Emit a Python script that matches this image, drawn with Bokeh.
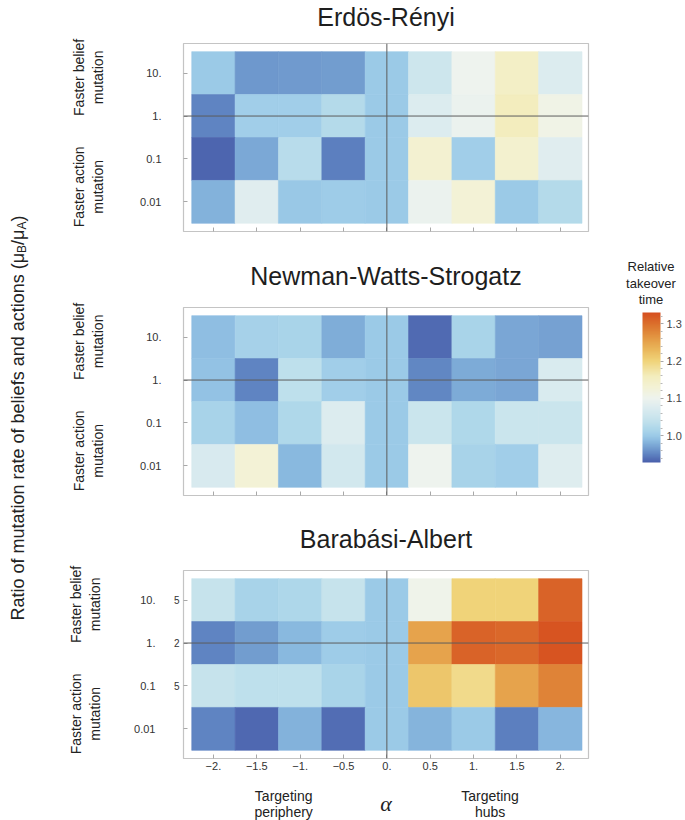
import numpy as np
from bokeh.plotting import figure
from bokeh.models import (LinearColorMapper, FixedTicker, Span, Label, Range1d,
                          LinearAxis, ColumnDataSource, ColorBar, Title)
from bokeh.layouts import row, column
from bokeh.transform import transform
from bokeh.embed import file_html
from bokeh.resources import INLINE

# ---------------- data ----------------
alphas = [-2.0, -1.5, -1.0, -0.5, 0.0, 0.5, 1.0, 1.5, 2.0]
alpha_labels = ["−2.", "−1.5", "−1.", "−0.5", "0.", "0.5", "1.", "1.5", "2."]
log_ratios = [1, 0, -1, -2]            # log10(mu_B/mu_A), rows top -> bottom
ratio_labels = ["10.", "1.", "0.1", "0.01"]
ba_extra_labels = ["5", "2", "5", ""]
panel_titles = ["Erdös-Rényi", "Newman-Watts-Strogatz", "Barabási-Albert"]
group_pos = [0.9, -1.65]
group_labels = ["Faster belief\nmutation", "Faster action\nmutation"]
target_pos = [-1.19, 1.19]
target_labels = ["Targeting\nperiphery", "Targeting\nhubs"]

# relative takeover time, rows: 10, 1, 0.1, 0.01 ; columns: alpha -2 .. 2
er_values = [
    [1.000, 0.963, 0.965, 0.967, 1.000, 1.055, 1.100, 1.148, 1.075],
    [0.950, 1.005, 1.005, 1.025, 1.000, 1.075, 1.095, 1.158, 1.110],
    [0.932, 0.975, 1.030, 0.948, 1.000, 1.135, 1.005, 1.138, 1.080],
    [0.980, 1.080, 0.998, 1.003, 1.000, 1.095, 1.128, 1.000, 1.025],
]
nws_values = [
    [0.990, 1.010, 1.013, 0.978, 1.000, 0.935, 1.013, 0.972, 0.970],
    [0.993, 0.950, 1.035, 1.005, 1.000, 0.953, 0.976, 0.973, 1.070],
    [1.012, 0.990, 1.020, 1.075, 1.000, 1.050, 1.020, 1.050, 1.050],
    [1.068, 1.128, 0.985, 1.060, 1.000, 1.100, 1.012, 1.005, 1.078],
]
ba_values = [
    [1.045, 1.012, 1.018, 1.045, 1.000, 1.105, 1.200, 1.200, 1.310],
    [0.950, 0.967, 0.985, 1.002, 1.000, 1.250, 1.310, 1.305, 1.325],
    [1.045, 1.035, 1.035, 1.013, 1.000, 1.215, 1.190, 1.250, 1.280],
    [0.950, 0.933, 0.980, 0.937, 1.000, 0.982, 1.000, 0.948, 0.983],
]
cbar_ticks = [1.0, 1.1, 1.2, 1.3]
cbar_low, cbar_high = 0.928, 1.33
cbar_title = ["Relative", "takeover", "time"]

# ---------------- style ----------------
FONT = "Liberation Sans"
TXT = "#222222"
anchors = [(0.928, "#4a60ac"), (0.95, "#5f84c2"), (0.97, "#77a3d3"), (0.985, "#89b9df"),
           (1.00, "#9ccbe8"), (1.02, "#b0d8ea"), (1.04, "#c3e2ec"), (1.07, "#d9ebef"),
           (1.10, "#eef3ee"), (1.13, "#f3f2d5"), (1.16, "#f3edbd"), (1.20, "#f0d47a"),
           (1.23, "#eab85c"), (1.26, "#e49a45"), (1.29, "#dd7a31"), (1.33, "#d64f1f")]


def build_palette(n=256):
    vs = np.array([a[0] for a in anchors])
    rgb = np.array([[int(h[i:i + 2], 16) for i in (1, 3, 5)] for _, h in anchors], dtype=float)
    grid = np.linspace(cbar_low, cbar_high, n)
    ch = [np.interp(grid, vs, rgb[:, k]) for k in range(3)]
    return ["#%02x%02x%02x" % (int(round(r)), int(round(g)), int(round(b))) for r, g, b in zip(*ch)]


mapper = LinearColorMapper(palette=build_palette(), low=cbar_low, high=cbar_high)

XR = (-2.345, 2.325)
YR = (-2.69, 1.69)
TOP, BOTTOM_LAST = 43, 62
LEFT_W, PANEL_W, CB_W, H = 34, 566, 85, 820
PANEL_LEFT = 149


def plain_axis(ax, size="11px", standoff=0, ticks_in=0):
    ax.axis_line_color = None
    ax.major_tick_in = ticks_in
    ax.major_tick_out = 0
    ax.minor_tick_in = 0
    ax.minor_tick_out = 0
    ax.major_tick_line_color = "#a8a8a8" if ticks_in else None
    ax.minor_tick_line_color = None
    ax.major_label_text_font = FONT
    ax.major_label_text_font_size = size
    ax.major_label_text_color = "#333333"
    ax.major_label_standoff = standoff


def make_panel(title, vals, b_top, b_bottom, spacer, is_last):
    p = figure(title=None, frame_width=405, frame_height=188,
               x_range=Range1d(*XR), y_range=Range1d(*YR),
               min_border_left=PANEL_LEFT, min_border_right=PANEL_W - PANEL_LEFT - 405,
               min_border_top=b_top, min_border_bottom=b_bottom,
               toolbar_location=None, tools="", output_backend="svg")
    # spacer (closest to the frame) and then the panel title
    p.add_layout(Title(text=" ", text_font_size="1px", standoff=spacer), "above")
    p.add_layout(Title(text=title, align="center", standoff=0, text_font=FONT,
                       text_font_size="25px", text_font_style="normal",
                       text_color="#1e1e1e"), "above")

    xs, ys, vs = [], [], []
    for i, lr in enumerate(log_ratios):
        for j, a in enumerate(alphas):
            xs.append(a)
            ys.append(lr)
            vs.append(vals[i][j])
    src = ColumnDataSource(dict(x=xs, y=ys, v=vs))
    p.rect("x", "y", width=0.5, height=1, source=src,
           fill_color=transform("v", mapper), line_color=transform("v", mapper), line_width=0.6)
    p.grid.visible = False
    p.outline_line_color = "#c4c4c4"
    p.outline_line_width = 1.2

    # x axis
    xa = p.xaxis[0]
    xa.ticker = FixedTicker(ticks=alphas)
    plain_axis(xa, standoff=3, ticks_in=4)
    if is_last:
        xa.major_label_overrides = dict(zip(alphas, alpha_labels))
        ta = LinearAxis(ticker=FixedTicker(ticks=target_pos),
                        major_label_overrides=dict(zip(target_pos, target_labels)))
        plain_axis(ta, size="14px", standoff=15)
        ta.major_label_text_color = TXT
        ta.major_label_text_line_height = 1.05
        ta.axis_label = "α"
        ta.axis_label_standoff = -32
        ta.axis_label_text_font = "Liberation Serif"
        ta.axis_label_text_font_style = "italic"
        ta.axis_label_text_font_size = "22px"
        ta.axis_label_text_color = TXT
        p.add_layout(ta, "below")
    else:
        xa.major_label_overrides = {a: "" for a in alphas}

    # y axes (stacked outwards from the frame)
    ya = p.yaxis[0]
    ya.ticker = FixedTicker(ticks=log_ratios)
    if is_last:
        ya.major_label_overrides = dict(zip(log_ratios, ba_extra_labels))
        plain_axis(ya, size="10px", standoff=4, ticks_in=4)
        ra = LinearAxis(ticker=FixedTicker(ticks=log_ratios),
                        major_label_overrides=dict(zip(log_ratios, ratio_labels)))
        plain_axis(ra, standoff=15)
        p.add_layout(ra, "left")
        g_standoff = 28
    else:
        ya.major_label_overrides = dict(zip(log_ratios, ratio_labels))
        plain_axis(ya, standoff=22, ticks_in=4)
        g_standoff = 31
    ga = LinearAxis(ticker=FixedTicker(ticks=group_pos),
                    major_label_overrides=dict(zip(group_pos, group_labels)),
                    major_label_orientation="parallel")
    plain_axis(ga, size="14px", standoff=g_standoff)
    ga.major_label_text_color = TXT
    p.add_layout(ga, "left")

    p.add_layout(Span(location=0, dimension="height", line_color="#5c5c5c", line_width=1))
    p.add_layout(Span(location=0, dimension="width", line_color="#5c5c5c", line_width=1))
    return p


p1 = make_panel(panel_titles[0], er_values, TOP, 25, 9.5, False)
p2 = make_panel(panel_titles[1], nws_values, 51, 24, 15, False)
p3 = make_panel(panel_titles[2], ba_values, 51, BOTTOM_LAST, 15, True)

# ---------------- left label (data units = pixels from the bottom) ----------------
lf = figure(title=None, frame_width=LEFT_W, frame_height=H - TOP - BOTTOM_LAST,
            x_range=Range1d(0, LEFT_W), y_range=Range1d(BOTTOM_LAST, H - TOP),
            min_border=0, min_border_top=TOP, min_border_bottom=BOTTOM_LAST,
            x_axis_location=None, y_axis_location=None,
            toolbar_location=None, tools="", output_backend="svg")
lf.outline_line_color = None
lf.grid.visible = False
parts = [("Ratio of mutation rate of beliefs and actions (μ", 200.0, 17, "18px"),
         ("B", 567.5, 21, "12px"),
         ("/μ", 575.5, 17, "18px"),
         ("A", 590.9, 21, "12px"),
         (")", 598.9, 17, "18px")]
for t, yy, xx, fs in parts:
    lf.add_layout(Label(x=xx, y=yy, text=t, angle=np.pi / 2, text_align="left",
                        text_baseline="alphabetic", text_font=FONT, text_font_size=fs,
                        text_color=TXT))

# ---------------- colour bar ----------------
cb = figure(title=None, frame_width=CB_W, frame_height=H - TOP - BOTTOM_LAST,
            x_range=Range1d(0, CB_W), y_range=Range1d(BOTTOM_LAST, H - TOP),
            min_border=0, min_border_top=TOP, min_border_bottom=BOTTOM_LAST,
            x_axis_location=None, y_axis_location=None,
            toolbar_location=None, tools="", output_backend="svg")
cb.outline_line_color = None
cb.grid.visible = False
minor = [round(t + k * 0.02, 2) for t in [0.9] + cbar_ticks for k in range(1, 5)
         if cbar_low <= t + k * 0.02 <= cbar_high]
bar = ColorBar(color_mapper=mapper, orientation="vertical", width=18, height=150,
               location=(42, 820 - BOTTOM_LAST - 462), padding=0, margin=0,
               ticker=FixedTicker(ticks=cbar_ticks, minor_ticks=minor),
               major_label_overrides={t: "%.1f" % t for t in cbar_ticks},
               major_tick_in=0, major_tick_out=3, minor_tick_in=0, minor_tick_out=2,
               major_tick_line_color="#a8a8a8", minor_tick_line_color="#b8b8b8",
               label_standoff=3, major_label_text_font=FONT,
               major_label_text_font_size="11px", major_label_text_color="#444444",
               bar_line_color=None, border_line_color=None, background_fill_alpha=0)
cb.add_layout(bar)
for t, base in zip(cbar_title, (265.5, 282.5, 298.5)):
    cb.add_layout(Label(x=50.5, y=H - base, text=t, text_align="center",
                        text_baseline="alphabetic", text_font=FONT, text_font_size="13px",
                        text_color=TXT))

layout = row(lf, column(p1, p2, p3, spacing=0), cb, spacing=0)

with open("out.html", "w") as f:
    f.write(file_html(layout, INLINE))
